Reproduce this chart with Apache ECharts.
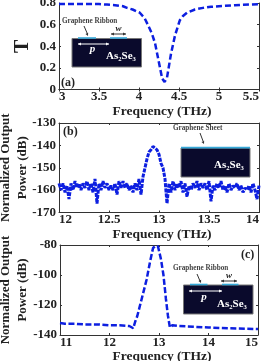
<!DOCTYPE html>
<html><head><meta charset="utf-8">
<style>html,body{margin:0;padding:0;background:#fff}#c{width:263px;height:361px}</style>
<script src="https://cdn.jsdelivr.net/npm/echarts@6/dist/echarts.min.js"></script>
</head><body><div id="c"></div>
<script>
const freqA=[3,3.2,3.4,3.5,3.6,3.7,3.8,3.85,3.92,4.01,4.07,4.11,4.16,4.2,4.26,4.29,4.32,4.35,4.4,4.45,4.51,4.55,4.6,4.7,4.8,4.9,5,5.2,5.5];
const transA=[0.79,0.79,0.79,0.79,0.785,0.78,0.77,0.755,0.74,0.71,0.66,0.6,0.52,0.43,0.21,0.1,0.07,0.11,0.33,0.5,0.64,0.68,0.71,0.74,0.755,0.765,0.77,0.78,0.79];
const freqB=[12,12.02,12.04,12.06,12.08,12.1,12.12,12.14,12.16,12.18,12.2,12.22,12.24,12.26,12.28,12.3,12.32,12.34,12.36,12.38,12.4,12.42,12.44,12.46,12.48,12.5,12.52,12.54,12.56,12.58,12.6,12.62,12.64,12.66,12.68,12.7,12.72,12.74,12.76,12.78,12.8,12.82,12.84,12.86,12.88,12.9,12.92,12.94,12.96,12.98,13,13.02,13.04,13.06,13.08,13.1,13.12,13.14,13.16,13.18,13.2,13.22,13.24,13.26,13.28,13.3,13.32,13.34,13.36,13.38,13.4,13.42,13.44,13.46,13.48,13.5,13.52,13.54,13.56,13.58,13.6,13.62,13.64,13.66,13.68,13.7,13.72,13.74,13.76,13.78,13.8,13.82,13.84,13.86,13.88,13.9,13.92,13.94,13.96,13.98,14];
const powerB=[-157,-160,-157,-161,-158,-164,-157,-160,-156,-159,-157,-160,-157,-159,-156,-160,-157,-161,-155,-166,-157,-160,-156,-159,-157,-160,-158,-160,-157,-162,-156,-159,-156,-159,-157,-160,-158,-161,-157,-160,-155,-162,-154,-150,-146,-143,-142,-140.5,-141,-142,-144,-148,-150,-155,-166,-157,-161,-156,-160,-157,-159,-156,-161,-157,-163,-158,-160,-157,-159,-156,-160,-157,-159,-157,-160,-156,-165,-158,-160,-157,-159,-156,-160,-158,-161,-157,-160,-158,-159,-157,-160,-158,-161,-159,-160,-158,-161,-157,-160,-164,-158];
const freqC=[11,11.1,11.3,11.5,11.8,12,12.2,12.4,12.48,12.52,12.56,12.65,12.75,12.82,12.88,12.93,12.98,13.04,13.09,13.14,13.18,13.22,13.27,13.4,13.7,14,14.4,15];
const powerC=[-132,-132.5,-132.5,-133,-133,-133.5,-133.5,-134,-135.5,-131,-127.5,-116,-103,-91,-82,-80.5,-81,-89.5,-100,-116,-127,-135,-133.5,-134,-134.5,-135,-135.5,-136];

const FONT='"Liberation Serif"',INK='#222',BLUE='#0d1fe0';
const panels=[
 {grid:{left:59,top:3,width:200,height:86.5},x:[3,5.5,0.5],y:[0,0.8,0.2],xs:freqA,ys:transA,yname:'T',gap:28,nameSize:20,dash:[6,3],xgap:14},
 {grid:{left:59,top:123,width:200,height:89.5},x:[12,14,0.5],y:[-170,-130,10],xs:freqB,ys:powerB,yname:'Normalized Output\nPower (dB)',gap:28,nameSize:13,dash:[4,1.2],xgap:14},
 {grid:{left:60,top:245,width:198,height:90},x:[11,15,1],y:[-140,-80,20],xs:freqC,ys:powerC,yname:'Normalized Output\nPower (dB)',gap:29,nameSize:13,dash:[6,2.5],xgap:12}
];
const grids=[],xAxes=[],yAxes=[],series=[];
panels.forEach((p,i)=>{
 grids.push({...p.grid,containLabel:false,outerBoundsMode:'none'});
 const line={show:true,lineStyle:{color:'#333',width:1}};
 const tick={show:true,inside:true,length:2,lineStyle:{color:'#333',width:1}};
 const lab={fontFamily:FONT,fontWeight:'bold',fontSize:13,color:INK};
 xAxes.push({type:'value',gridIndex:i,min:p.x[0],max:p.x[1],interval:p.x[2],axisLine:line,axisTick:tick,splitLine:{show:false},
  axisLabel:{...lab,margin:1,alignMinLabel:'left',alignMaxLabel:'right',hideOverlap:false},
  name:'Frequency (THz)',nameLocation:'middle',nameGap:p.xgap,nameTextStyle:{fontFamily:FONT,fontWeight:'bold',fontSize:13.5,color:INK,padding:[0,0,0,6]}});
 xAxes.push({type:'value',gridIndex:i,position:'top',min:p.x[0],max:p.x[1],interval:p.x[2],axisLine:line,axisTick:tick,axisLabel:{show:false},splitLine:{show:false}});
 yAxes.push({type:'value',gridIndex:i,min:p.y[0],max:p.y[1],interval:p.y[2],axisLine:line,axisTick:tick,splitLine:{show:false},
  axisLabel:{...lab,margin:3},nameMoveOverlap:false,
  name:p.yname,nameLocation:'middle',nameRotate:90,nameGap:p.gap,nameTextStyle:{fontFamily:FONT,fontWeight:'bold',fontSize:p.nameSize,color:INK,lineHeight:17}});
 yAxes.push({type:'value',gridIndex:i,position:'right',min:p.y[0],max:p.y[1],interval:p.y[2],axisLine:line,axisTick:tick,axisLabel:{show:false},splitLine:{show:false}});
 series.push({type:'line',xAxisIndex:i*2,yAxisIndex:i*2,symbol:'none',clip:true,z:3,
  data:p.xs.map((v,k)=>[v,p.ys[k]]),
  lineStyle:{color:BLUE,width:i==1?3:2.5,type:p.dash}});
});

const DARK='#0a0a2c',CY='#35a8d8';
function txt(x,y,t,o){return {type:'text',z:20,style:Object.assign({x,y,text:t,fill:INK,fontFamily:FONT,fontWeight:'bold',fontSize:7,textAlign:'left',textVerticalAlign:'middle'},o||{})};}
function seg(x1,y1,x2,y2,col){return {type:'line',z:20,shape:{x1,y1,x2,y2},style:{stroke:col,lineWidth:1}};}
function head(x,y,dx,dy,col){const nx=-dy,ny=dx;return {type:'polygon',z:20,shape:{points:[[x,y],[x-dx*3+nx*1.5,y-dy*3+ny*1.5],[x-dx*3-nx*1.5,y-dy*3-ny*1.5]]},style:{fill:col}};}
function dbl(x1,x2,y,col){return [seg(x1,y,x2,y,col),head(x1,y,-1,0,col),head(x2,y,1,0,col)];}
function box(x,y,w,h){return {type:'rect',z:15,shape:{x,y,width:w,height:h},style:{fill:DARK,stroke:'#777',lineWidth:1}};}
function strip(x,y,w){return {type:'rect',z:16,shape:{x,y,width:w,height:1.6},style:{fill:CY}};}
const W='#fff',A='#333',G='#444';
const graphics=[
 box(72,38.5,69.5,28.5),strip(78,37.2,18),strip(110,37.2,17),
 txt(62,21,'Graphene Ribbon',{fontSize:7.2,fill:G}),seg(84,26,87.5,34,A),head(88,36,0.4,0.9,A),
 ...dbl(111,126,34,A),txt(118.5,29,'w',{fontSize:9,fontStyle:'italic',textAlign:'center'}),
 ...dbl(78,109,44,W),txt(92.5,49.5,'p',{fontSize:11,fontStyle:'italic',textAlign:'center',fill:W}),
 txt(106,56,'As₂Se₃',{fontSize:11,fill:W}),txt(61,83,'(a)',{fontSize:12}),

 box(181,148,69,29),strip(181,146.8,69),
 txt(173,128,'Graphene Sheet',{fontSize:7.2,fill:G}),seg(200,133,203,141,A),head(204,144,0.4,0.9,A),
 txt(214,165,'As₂Se₃',{fontSize:11,fill:W}),txt(63,132,'(b)',{fontSize:12}),

 box(183.5,285,69.5,29),strip(190,283.7,17.5),strip(222,283.7,16.5),
 txt(173,268,'Graphene Ribbon',{fontSize:7.2,fill:G}),seg(197,274,200,281,A),head(201,283,0.4,0.9,A),
 ...dbl(221,237,281,A),txt(229,275.5,'w',{fontSize:9,fontStyle:'italic',textAlign:'center'}),
 ...dbl(189,222,291,W),txt(204,297,'p',{fontSize:11,fontStyle:'italic',textAlign:'center',fill:W}),
 txt(217,304,'As₂Se₃',{fontSize:11,fill:W}),txt(241,255,'(c)',{fontSize:12})
];
const chart=echarts.init(document.getElementById('c'),null,{renderer:'canvas'});
chart.setOption({animation:false,backgroundColor:'#fff',grid:grids,xAxis:xAxes,yAxis:yAxes,series,graphic:{elements:graphics}});
</script></body></html>
